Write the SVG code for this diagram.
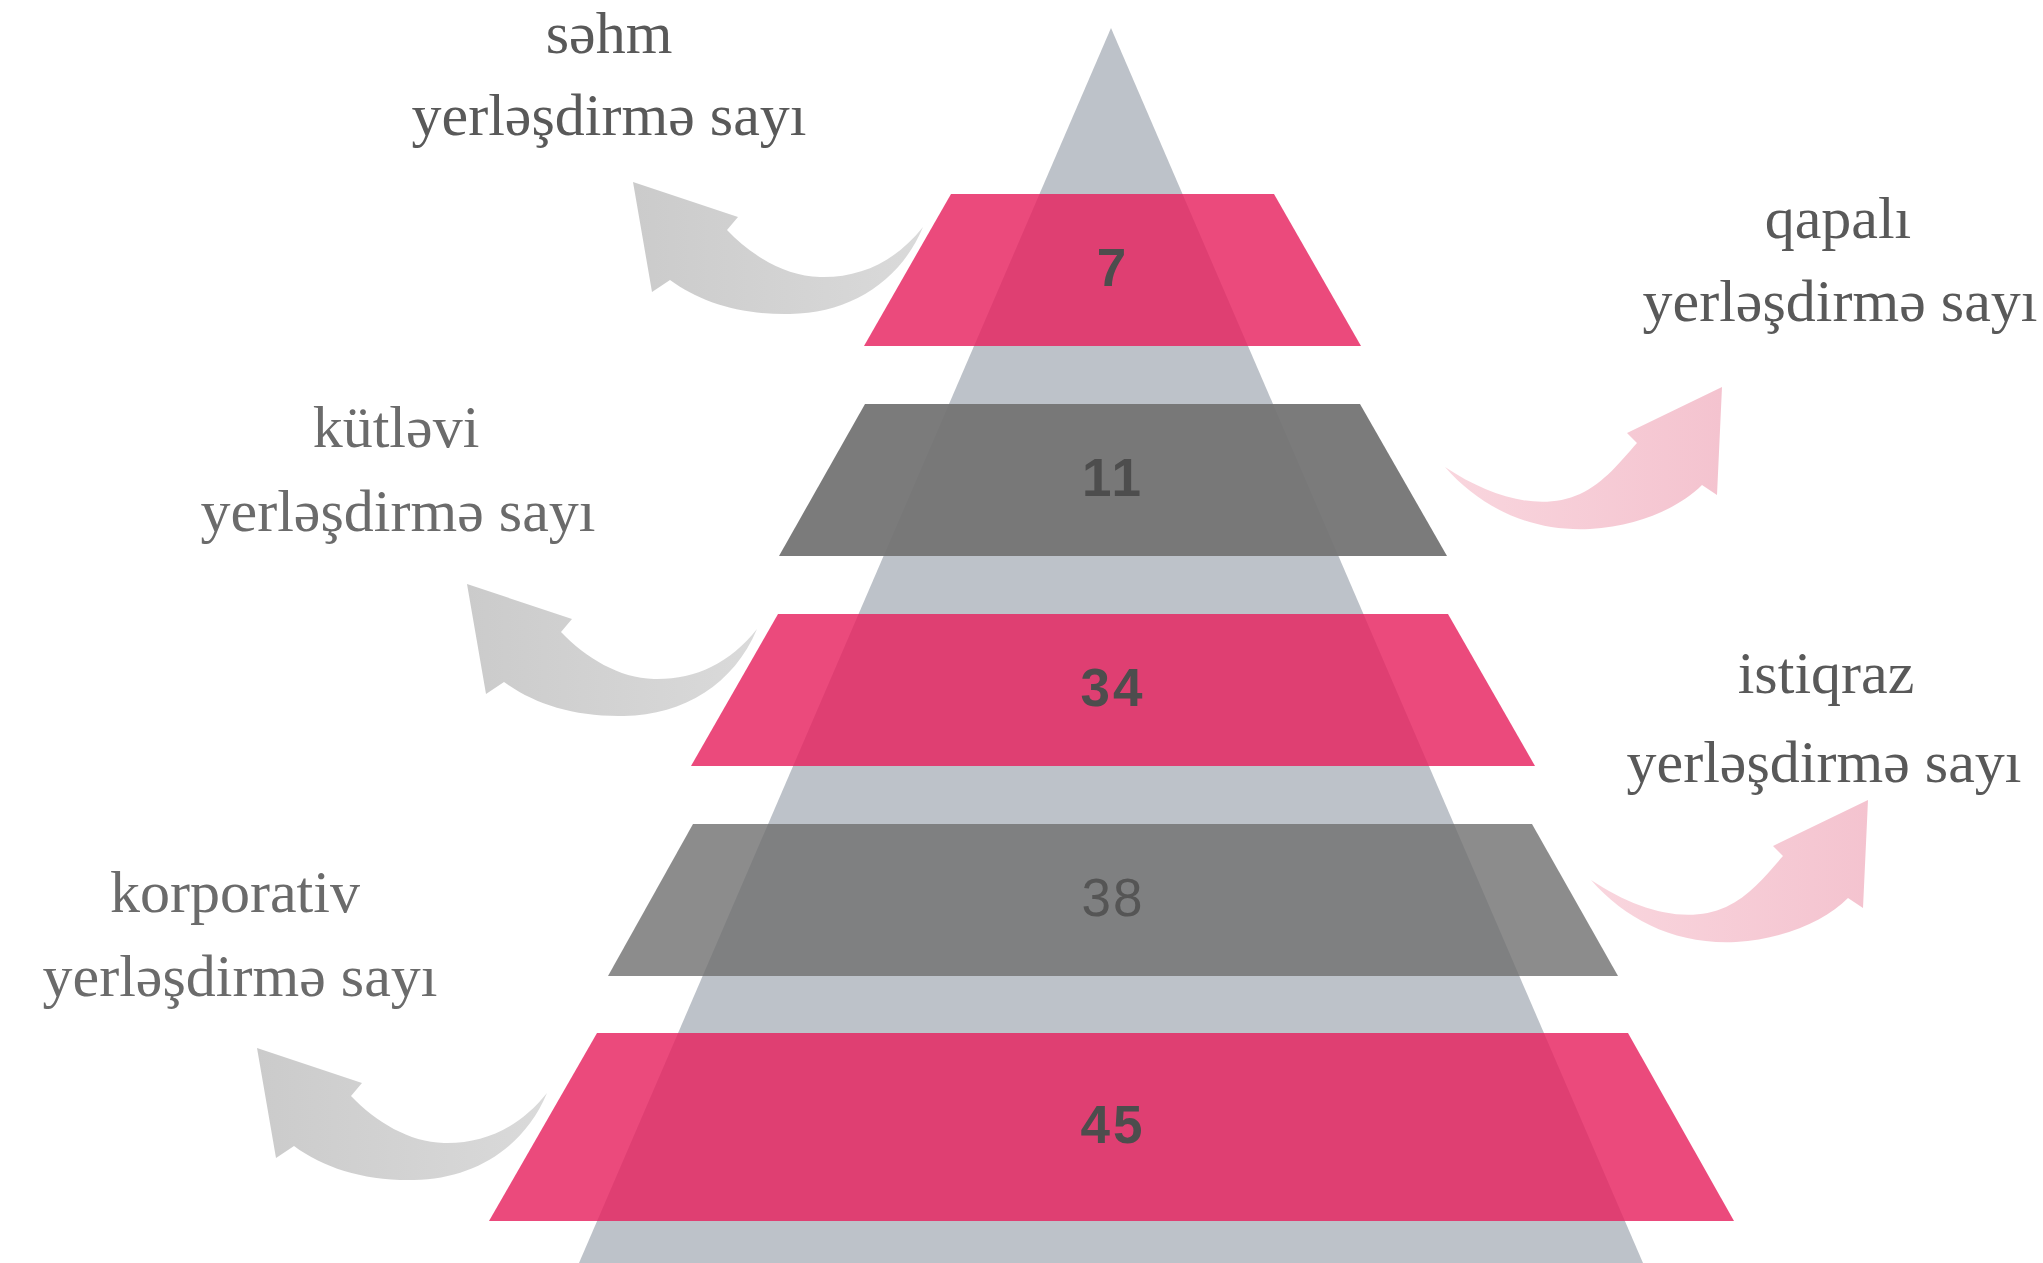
<svg xmlns="http://www.w3.org/2000/svg" width="2043" height="1263" viewBox="0 0 2043 1263">
<style>
.pink{fill:#e6225f;fill-opacity:0.82}
.gray1{fill:#747474;fill-opacity:0.95}
.gray2{fill:#6f6f6f;fill-opacity:0.8}
.num{font-family:"Liberation Sans",Arial,sans-serif;font-size:53px;font-weight:bold;fill:#4d4d4d;text-anchor:middle;letter-spacing:3px}
.num2{font-family:"Liberation Sans",Arial,sans-serif;font-size:53px;fill:#555555;text-anchor:middle;letter-spacing:2px}
.lbl{font-family:"Liberation Serif","Times New Roman",serif;font-size:60px;fill:#595959;text-anchor:middle}
.lbl2{font-family:"Liberation Serif","Times New Roman",serif;font-size:60px;fill:#6b6b6b;text-anchor:middle}
.arrL{fill:url(#gGray)}
.arrR{fill:url(#gPink)}
</style>
<defs>
<linearGradient id="gGray" x1="0" y1="0" x2="1" y2="0">
<stop offset="0" stop-color="#cbcbcb"/>
<stop offset="1" stop-color="#dadada"/>
</linearGradient>
<linearGradient id="gPink" x1="0" y1="0" x2="1" y2="0">
<stop offset="0" stop-color="#f9d6de"/>
<stop offset="1" stop-color="#f4c3cf"/>
</linearGradient>
<path id="arrowL" d="M923,227 C895,262 860,278 820,277 C785,276 752,256 727,230 L738,217 L633,182 L652,292 L670,280 C700,302 740,315 790,314 C850,313 900,282 923,227 Z"/>
<path id="arrowR" d="M1445,467 C1490,497 1540,512 1580,494 C1605,482 1620,462 1637,443 L1627,433 L1722,387 L1717,495 L1702,485 C1680,507 1640,526 1590,529 C1530,532 1480,507 1445,467 Z"/>
</defs>
<rect width="2043" height="1263" fill="#ffffff"/>
<g id="pyramid">
<polygon points="1111,28 1643,1263 579,1263" fill="#bdc2c9"/>
</g>
<g id="connectors">
<use href="#arrowL" class="arrL"/>
<use href="#arrowL" class="arrL" transform="translate(-166,402)"/>
<use href="#arrowL" class="arrL" transform="translate(-376,866)"/>
<use href="#arrowR" class="arrR"/>
<use href="#arrowR" class="arrR" transform="translate(146,413)"/>
</g>
<g id="band-7">
<polygon class="pink" points="951,194 1274,194 1361,346 864,346"/>
<text class="num" x="1113" y="286">7</text>
</g>
<g id="band-11">
<polygon class="gray1" points="865,404 1360,404 1447,556 779,556"/>
<text class="num" x="1113" y="496">11</text>
</g>
<g id="band-34">
<polygon class="pink" points="778,614 1448,614 1535,766 691,766"/>
<text class="num" x="1113" y="706">34</text>
</g>
<g id="band-38">
<polygon class="gray2" points="693,824 1532,824 1618,976 608,976"/>
<text class="num2" x="1113" y="916">38</text>
</g>
<g id="band-45">
<polygon class="pink" points="597,1033 1628,1033 1734,1221 489,1221"/>
<text class="num" x="1113" y="1143">45</text>
</g>
<g id="label-sehm">
<text class="lbl" x="609" y="53">səhm</text>
<text class="lbl" x="609" y="135">yerləşdirmə sayı</text>
</g>
<g id="label-qapali">
<text class="lbl" x="1838" y="238">qapalı</text>
<text class="lbl" x="1840" y="321">yerləşdirmə sayı</text>
</g>
<g id="label-kutlevi">
<text class="lbl2" x="396" y="447">kütləvi</text>
<text class="lbl2" x="398" y="531">yerləşdirmə sayı</text>
</g>
<g id="label-istiqraz">
<text class="lbl" x="1826" y="693">istiqraz</text>
<text class="lbl" x="1824" y="782">yerləşdirmə sayı</text>
</g>
<g id="label-korporativ">
<text class="lbl2" x="235" y="912">korporativ</text>
<text class="lbl2" x="240" y="996">yerləşdirmə sayı</text>
</g>
</svg>
